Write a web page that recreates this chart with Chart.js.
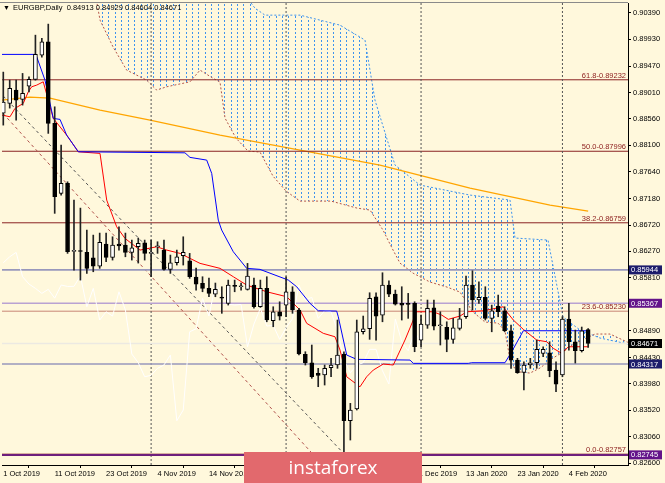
<!DOCTYPE html>
<html>
<head>
<meta charset="utf-8">
<script src="https://cdn.jsdelivr.net/npm/chart.js@4.4.0/dist/chart.umd.min.js"></script>
<style>
  html, body { margin: 0; padding: 0; background: #FFF8DC; }
  canvas { display: block; }
</style>
</head>
<body>
<canvas id="c" width="665" height="483"></canvas>
<script>
// ============================================================
//  EURGBP Daily — свечи, Ишимоку, MA, уровни Фибоначчи
// ============================================================

const dateTicks  = [0, 8, 16, 24, 32, 40, 48, 56, 64, 72, 80, 88];
const dateLabels = ["1 Oct 2019", "11 Oct 2019", "23 Oct 2019", "4 Nov 2019", "14 Nov 2019", "26 Nov 2019",
                    "6 Dec 2019", "18 Dec 2019", "31 Dec 2019", "13 Jan 2020", "23 Jan 2020", "4 Feb 2020"];
const priceTicks = [0.90390, 0.89930, 0.89470, 0.89010, 0.88560, 0.88100, 0.87640, 0.87180, 0.86720,
                    0.86270, 0.85810, 0.85350, 0.84890, 0.84430, 0.83980, 0.83520, 0.83060, 0.82600];

// OHLC, 92 дня
const opens = [0.88656,0.88824,0.89054,0.88893,0.89123,0.89239,0.89659,0.89889,0.88478,0.87267,
  0.87440,0.86265,0.86270,0.86247,0.86154,0.86010,0.86391,0.86161,0.86391,0.86374,
  0.86247,0.86344,0.86413,0.86230,0.86344,0.86287,0.85953,0.86068,0.86189,0.86102,
  0.85820,0.85711,0.85625,0.85526,0.85462,0.85366,0.85665,0.85653,0.85608,0.85682,
  0.85307,0.85625,0.85065,0.85220,0.85336,0.85566,0.85250,0.84484,0.84339,0.84155,
  0.84126,0.84252,0.84299,0.84489,0.83336,0.83538,0.84874,0.84926,0.85480,0.85163,
  0.85682,0.85526,0.85366,0.85353,0.85366,0.84731,0.84990,0.85290,0.84978,0.84951,
  0.84743,0.84933,0.85134,0.85682,0.85423,0.85469,0.85106,0.85319,0.85238,0.84892,
  0.84385,0.84172,0.84299,0.84339,0.84501,0.84511,0.84212,0.84126,0.85094,0.84702,
  0.84546,0.84913];
const highs = [0.89365,0.89226,0.89226,0.89342,0.89283,0.90004,0.89947,0.90195,0.88765,0.88103,
  0.87468,0.87152,0.87013,0.86633,0.86546,0.86581,0.86581,0.86517,0.86690,0.86581,
  0.86460,0.86495,0.86460,0.86460,0.86431,0.86460,0.86201,0.86287,0.86517,0.86230,
  0.85976,0.85826,0.85803,0.85717,0.85653,0.85768,0.85768,0.85717,0.86057,0.85803,
  0.85768,0.85826,0.85307,0.85393,0.85826,0.85653,0.85279,0.84529,0.84645,0.84242,
  0.84299,0.84415,0.85077,0.84529,0.83636,0.85077,0.85146,0.85549,0.85549,0.85895,
  0.85756,0.85595,0.85653,0.85538,0.85393,0.85163,0.85423,0.85423,0.85220,0.85047,
  0.85106,0.85279,0.85838,0.85929,0.85739,0.85653,0.85336,0.85509,0.85307,0.84990,
  0.84415,0.84356,0.84415,0.84731,0.84615,0.84702,0.84356,0.85134,0.85366,0.84904,
  0.84956,0.84929];
const lows = [0.88448,0.88742,0.88535,0.88794,0.89024,0.89226,0.89624,0.88305,0.86922,0.87238,
  0.86230,0.85941,0.85768,0.85884,0.85912,0.85971,0.86085,0.86114,0.86287,0.86171,
  0.86114,0.86062,0.86114,0.85826,0.86230,0.85941,0.85884,0.86028,0.86028,0.85798,
  0.85595,0.85566,0.85480,0.85480,0.85193,0.85336,0.85566,0.85595,0.85595,0.85284,
  0.85296,0.85047,0.84961,0.85077,0.85134,0.85193,0.84472,0.84299,0.84069,0.83924,
  0.83953,0.84096,0.84242,0.82757,0.83002,0.83521,0.84835,0.84743,0.84731,0.85047,
  0.85480,0.85336,0.85077,0.85106,0.84529,0.84615,0.84933,0.84904,0.84645,0.84529,
  0.84674,0.84904,0.85106,0.85250,0.85366,0.85077,0.84874,0.85134,0.84874,0.84242,
  0.84155,0.83867,0.84242,0.84242,0.84442,0.84096,0.83837,0.84096,0.84558,0.84333,
  0.84524,0.84604];
const closes = [0.88846,0.89083,0.88881,0.88996,0.89239,0.89671,0.89889,0.88478,0.87209,0.87440,
  0.86258,0.86272,0.86262,0.85971,0.86010,0.86420,0.86161,0.86374,0.86361,0.86247,
  0.86327,0.86403,0.86230,0.86238,0.86350,0.85953,0.86068,0.86171,0.86247,0.85826,
  0.85699,0.85625,0.85538,0.85608,0.85455,0.85682,0.85658,0.85660,0.85838,0.85307,
  0.85625,0.85077,0.85220,0.85146,0.85566,0.85250,0.84489,0.84339,0.84096,0.84121,
  0.84242,0.84299,0.84472,0.83336,0.83521,0.84874,0.84926,0.85452,0.85146,0.85682,
  0.85526,0.85353,0.85336,0.85347,0.84615,0.85008,0.85279,0.84973,0.84985,0.84743,
  0.84944,0.85099,0.85682,0.85423,0.85469,0.85106,0.85238,0.85220,0.84892,0.84385,
  0.84166,0.84299,0.84339,0.84570,0.84570,0.84200,0.83970,0.85094,0.84702,0.84546,
  0.84892,0.84671];

// Ишимоку: [индекс бара, цена]
const kijun = [[-0.2,0.89671],[4.93,0.89671],[5.2,0.89630],[6.49,0.89226],[7.78,0.88564],[8.82,0.88547],
  [9.86,0.88275],[11.67,0.87987],[28.27,0.87969],[29.05,0.87890],[31.65,0.87843],[32.43,0.87613],
  [33.45,0.86806],[33.98,0.86633],[35.79,0.86258],[37.87,0.85971],[39.94,0.85953],[44.35,0.85768],
  [45.65,0.85653],[47.72,0.85366],[49.01,0.85237],[51.87,0.85232],[52.12,0.85134],[53.43,0.84472],
  [54.99,0.84397],[63.28,0.84385],[63.79,0.84328],[72.35,0.84328],[72.88,0.84339],[78.06,0.84339],
  [79.11,0.84529],[80.91,0.84892],[91,0.84892]];
const tenkan = [[-0.2,0.88621],[1.04,0.88592],[1.82,0.88737],[3.11,0.88824],[3.89,0.89024],[4.42,0.89111],
  [5.2,0.89140],[6.22,0.89197],[7.78,0.88564],[9.86,0.88275],[11.67,0.87987],[15.05,0.87959],
  [16.09,0.87152],[17.64,0.86690],[18.94,0.86489],[21.27,0.86287],[23.87,0.86344],[25.42,0.86287],
  [27.49,0.86230],[30.61,0.86057],[33.72,0.85971],[35.79,0.85826],[37.87,0.85682],[40.98,0.85566],
  [44.10,0.85480],[46.17,0.85250],[47.21,0.85020],[49.79,0.84847],[51.61,0.84788],[52.39,0.84558],
  [53.43,0.84096],[55.5,0.83923],[56.54,0.84096],[57.57,0.84212],[59.13,0.84316],[60.68,0.84299],
  [62.5,0.84731],[63.79,0.85077],[64.05,0.85220],[66.91,0.85220],[68.21,0.85163],[69.24,0.85089],
  [71.06,0.85146],[72.1,0.85220],[74.69,0.85237],[77.8,0.85307],[78.33,0.85220],[79.36,0.85077],
  [80.91,0.84916],[82.99,0.84731],[84.55,0.84702],[85.58,0.84587],[86.89,0.84501],[87.92,0.84615],
  [91,0.84615]];
const spanA = [[14.28,0.90748],[15.05,0.90264],[17.07,0.89802],[19.2,0.89399],[22.31,0.89226],[23.87,0.89054],
  [25.42,0.89111],[29.05,0.89197],[30.61,0.89399],[32.67,0.89256],[33.72,0.89192],[34.5,0.88569],
  [36.2,0.88224],[38.07,0.87999],[39.94,0.87982],[41.96,0.87567],[43.99,0.87307],[46.17,0.87134],
  [50.99,0.87134],[55.04,0.87013],[57.06,0.86979],[59.08,0.86633],[60.48,0.86322],[61.72,0.86062],
  [63.74,0.85889],[66.39,0.85734],[69.04,0.85647],[71.06,0.85561],[71.99,0.85405],[72.93,0.85232],
  [74.95,0.85042],[76.97,0.85025],[78.06,0.84887],[79.0,0.84298],[80.4,0.84178],[81.95,0.84160],
  [83.51,0.84247],[85.53,0.84420],[87.09,0.84523],[88.49,0.84645],[90.04,0.84731],[92.07,0.84835],
  [94.4,0.84835],[97.2,0.84690]];
const spanB = [[13.96,0.91128],[37.61,0.90696],[39.16,0.90471],[40.72,0.90350],[46.17,0.90350],[52.39,0.90177],
  [56.28,0.89918],[57.83,0.88881],[60.95,0.87757],[64.84,0.87411],[72.62,0.87238],[78.84,0.87152],
  [79.62,0.86495],[84.75,0.86460],[87.09,0.85129],[89.73,0.84904],[92.84,0.84766],[97.2,0.84662]];
const movingAvg = [[-0.2,0.88881],[4.15,0.88932],[7.27,0.88915],[15.05,0.88708],[22.83,0.88535],[33.72,0.88275],
  [46.16,0.88016],[58.61,0.87757],[72.62,0.87359],[85.07,0.87065],[91,0.86961]];

// Трендовые линии канала
const chanDark  = [[0, 0.88950], [53.17, 0.82746]];
const chanBrown = [[0, 0.88645], [48.5, 0.82717]];

// Уровни
const fibNames  = ["61.8", "50.0", "38.2", "23.6", "0.0"];
const fibLevels = [0.89232, 0.87996, 0.86759, 0.85230, 0.82757];
const navyLevels   = [0.85944, 0.84317];
const purpleLevels = [0.85367, 0.82745];
const bidPrice = 0.84671;
const monthStarts = [23, 44, 65, 87];

const X_MIN = -0.2, X_MAX = 97.2, Y_MIN = 0.8257, Y_MAX = 0.9056;
const FONT = '"Liberation Sans", Arial, sans-serif';

const pts = arr => arr.map(p => ({ x: p[0], y: p[1] }));
const hline = v => [{ x: X_MIN, y: v }, { x: X_MAX, y: v }];

function line(data, color, width, extra) {
  return Object.assign({
    type: "line", data, borderColor: color, borderWidth: width,
    pointRadius: 0, fill: false, tension: 0,
  }, extra || {});
}

const cv = document.getElementById("c");
const ctx = cv.getContext("2d");

// штриховка облака — вертикальные пунктиры через бар
function hatch() {
  const c = document.createElement("canvas");
  c.width = 45; c.height = 4;
  const g = c.getContext("2d");
  g.fillStyle = "#3D93EE";
  [6, 12, 18, 25, 31, 38, 44].forEach(x => g.fillRect(x, 0, 1, 2));
  return ctx.createPattern(c, "repeat");
}

const bull = closes.map((c, i) => c >= opens[i]);

const datasets = [
  line(pts(spanB), "#3D93EE", 1, { fill: "+1", backgroundColor: hatch(), borderDash: [2, 2], order: 20 }),
  line(pts(spanA), "#B5554A", 1, { borderDash: [2, 2], order: 19 }),
  line(pts(movingAvg), "#FFA500", 1.2, { order: 15 }),
];
fibLevels.forEach((v, k) =>
  datasets.push(line(hline(v), k === 3 ? "#C98676" : "#8B2323", 1, { order: 14 })));
navyLevels.forEach(v => datasets.push(line(hline(v), "#9898BC", 1.6, { order: 13 })));
datasets.push(line(hline(purpleLevels[0]), "#B9A2D2", 1.4, { order: 13 }));
datasets.push(line(hline(purpleLevels[1]), "#6E1F7C", 2, { order: 13 }));
monthStarts.forEach(m =>
  datasets.push(line([{ x: m, y: Y_MIN }, { x: m, y: Y_MAX }], "#555", 1, { borderDash: [2, 2], order: 13 })));
datasets.push(line(pts(chanDark), "#555", 1, { borderDash: [3, 3], order: 13 }));
datasets.push(line(pts(chanBrown), "#B0504A", 1, { borderDash: [3, 3], order: 13 }));
// чикоу — закрытия со сдвигом на 26 баров назад
datasets.push(line(closes.map((c, i) => ({ x: i - 26, y: c })).filter(p => p.x >= 0), "#FFFFFF", 1, { order: 12 }));
datasets.push(line(hline(bidPrice), "#ECE9E2", 1.6, { order: 12 }));
datasets.push(line(pts(tenkan), "#FF0000", 1, { order: 8 }));
datasets.push(line(pts(kijun), "#0000FF", 1, { order: 7 }));

datasets.push({
  type: "bar", grouped: false, order: 2, barThickness: 1,
  data: lows.map((l, i) => ({ x: i, y: [l, highs[i]] })),
  backgroundColor: "#222", borderWidth: 0,
});
datasets.push({
  type: "bar", grouped: false, order: 1, barThickness: 4, minBarLength: 1,
  data: opens.map((o, i) => ({ x: i, y: [Math.min(o, closes[i]), Math.max(o, closes[i])] })),
  backgroundColor: bull.map(b => b ? "#FFFFFF" : "#000000"),
  borderColor: "#000", borderWidth: 1, borderSkipped: false,
});

function box(c, v, y, fill, text) {
  c.fillStyle = fill;
  c.fillRect(629, y - 4.5, 33, 9);
  c.fillStyle = "#FFF";
  c.textAlign = "left";
  c.fillText(text, 631, y + 0.5);
}

const decor = {
  id: "decor",
  beforeDraw(chart) {
    const c = chart.ctx;
    c.save();
    c.fillStyle = "#FFF8DC";
    c.fillRect(0, 0, chart.width, chart.height);
    c.restore();
  },
  afterDraw(chart) {
    const c = chart.ctx, a = chart.chartArea, y = chart.scales.y;
    c.save();
    // рамка сверху
    c.strokeStyle = "#8A8A8A"; c.lineWidth = 1;
    c.beginPath(); c.moveTo(0, a.top - 0.5); c.lineTo(a.right, a.top - 0.5); c.stroke();

    c.font = "7.5px " + FONT;
    c.textBaseline = "alphabetic";
    c.textAlign = "right";
    c.fillStyle = "#8B1A1A";
    fibLevels.forEach((v, k) => c.fillText(fibNames[k] + "-" + v.toFixed(5), a.right - 2, y.getPixelForValue(v) - 2));

    c.textBaseline = "middle";
    navyLevels.forEach(v => box(c, v, y.getPixelForValue(v), "#1C1C6B", v.toFixed(5)));
    purpleLevels.forEach(v => box(c, v, y.getPixelForValue(v), "#64148A", v.toFixed(5)));
    box(c, bidPrice, y.getPixelForValue(bidPrice), "#000000", bidPrice.toFixed(5));

    // заголовок
    c.fillStyle = "#000";
    c.textAlign = "left";
    c.font = "7px " + FONT;
    c.fillText("▼", 3, 8);
    c.font = "7.5px " + FONT;
    c.fillText("EURGBP,Daily  " + [opens[91], highs[91], lows[91], closes[91]].map(v => v.toFixed(5)).join(" "), 13, 8);

    // плашка instaforex
    c.fillStyle = "#E2696D";
    c.fillRect(244, 452, 178, 31);
    c.fillStyle = "#FFFFFF";
    c.textAlign = "center";
    c.textBaseline = "alphabetic";
    c.font = '19px "Open Sans", sans-serif';
    c.fillText("instaforex", 333, 474);
    c.restore();
  },
};

new Chart(ctx, {
  type: "bar",
  data: { datasets },
  options: {
    responsive: false,
    animation: false,
    events: [],
    layout: { padding: { left: 2, top: 3, right: 0, bottom: 0 } },
    plugins: { legend: { display: false }, tooltip: { enabled: false } },
    scales: {
      x: {
        type: "linear", min: X_MIN, max: X_MAX, offset: false,
        border: { display: true, color: "#000", width: 1 },
        grid: { drawOnChartArea: false, drawTicks: true, tickLength: 3, color: "#000" },
        ticks: {
          autoSkip: false, maxRotation: 0, align: "start", padding: 1,
          color: "#000", font: { family: FONT, size: 7.5 },
          callback: (v, i) => dateLabels[i],
        },
        afterBuildTicks: s => { s.ticks = dateTicks.map(v => ({ value: v })); },
        afterFit: s => { s.height = 18; s.paddingLeft = 0; s.paddingRight = 0; },
      },
      y: {
        position: "right", min: Y_MIN, max: Y_MAX,
        border: { display: true, color: "#000", width: 1 },
        grid: { drawOnChartArea: false, drawTicks: true, tickLength: 3, color: "#000" },
        ticks: {
          autoSkip: false, padding: 2, color: "#000",
          font: { family: FONT, size: 7.5 },
          callback: v => v.toFixed(5),
        },
        afterBuildTicks: s => { s.ticks = priceTicks.map(v => ({ value: v })); },
        afterFit: s => { s.width = 37; s.paddingTop = 0; s.paddingBottom = 0; },
      },
    },
  },
  plugins: [decor],
});
</script>
</body>
</html>
